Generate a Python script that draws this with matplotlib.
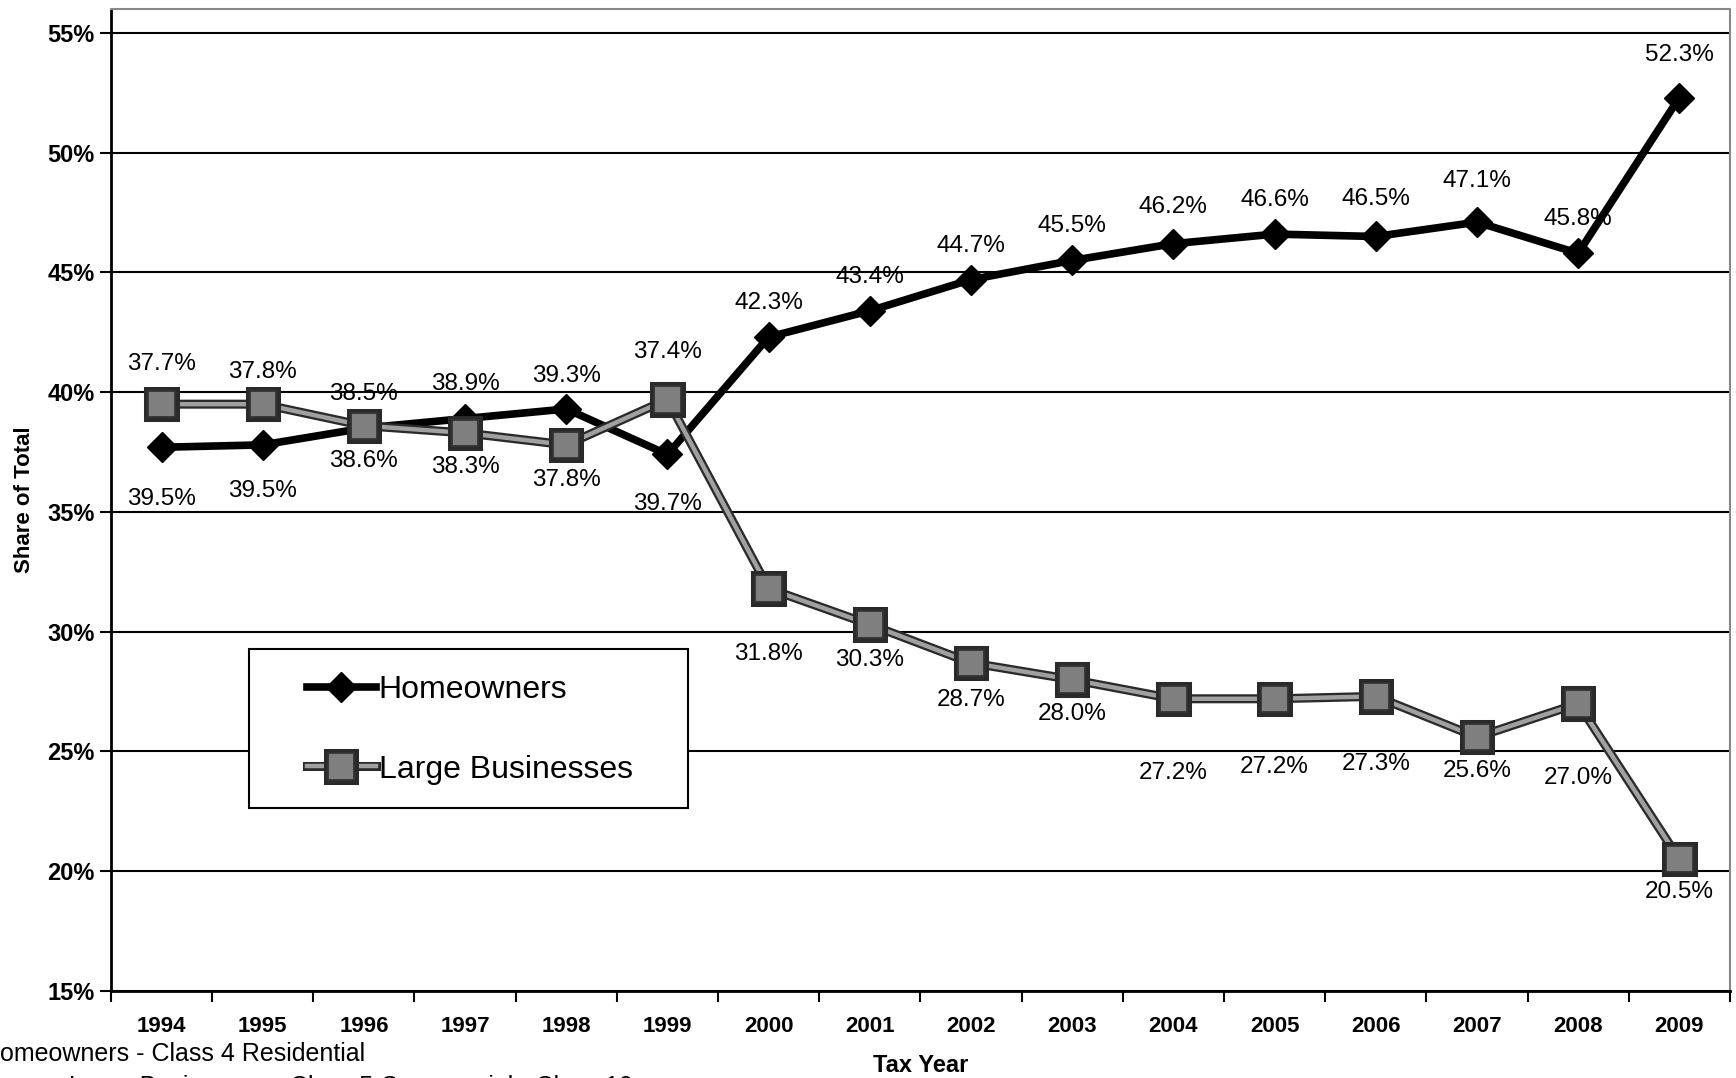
import matplotlib.pyplot as plt
import matplotlib.patheffects as pe
from matplotlib.patches import Rectangle

plt.rcParams['font.family'] = ['Liberation Sans', 'DejaVu Sans']

years = ['1994', '1995', '1996', '1997', '1998', '1999', '2000', '2001',
         '2002', '2003', '2004', '2005', '2006', '2007', '2008', '2009']
homeowners = [37.7, 37.8, 38.5, 38.9, 39.3, 37.4, 42.3, 43.4,
              44.7, 45.5, 46.2, 46.6, 46.5, 47.1, 45.8, 52.3]
large_biz = [39.5, 39.5, 38.6, 38.3, 37.8, 39.7, 31.8, 30.3,
             28.7, 28.0, 27.2, 27.2, 27.3, 25.6, 27.0, 20.5]
# labels as printed on the original (they were swapped in the source chart)
ho_labels = ['37.7%', '37.8%', '38.5%', '38.9%', '39.3%', '37.4%', '42.3%', '43.4%',
             '44.7%', '45.5%', '46.2%', '46.6%', '46.5%', '47.1%', '45.8%', '52.3%']
lb_labels = ['39.5%', '39.5%', '38.6%', '38.3%', '37.8%', '39.7%', '31.8%', '30.3%',
             '28.7%', '28.0%', '27.2%', '27.2%', '27.3%', '25.6%', '27.0%', '20.5%']
yticks = [15, 20, 25, 30, 35, 40, 45, 50, 55]

# label offsets in pixels (hand placed in the original)
ho_dy = [83, 73, 34, 35, 33, 102, 34, 34, 34, 34, 37, 34, 37, 41, 34, 43]
lb_dy = [95, 87, 35, 34, 35, 105, 65, 35, 37, 34, 74, 68, 68, 34, 74, 33]

fig = plt.figure(figsize=(17.36, 10.78), dpi=100)
ax = fig.add_axes([0.0639, 0.0807, 0.9326, 0.911])

x = list(range(len(years)))

for y in yticks:
    ax.axhline(y, color='black', lw=1.5, zorder=1)

ax.plot(x, homeowners, color='black', lw=5.5, marker='D', markersize=15,
        markerfacecolor='black', markeredgecolor='black', label='Homeowners',
        zorder=3)
lb_line, = ax.plot(x, large_biz, color='#a0a0a0', lw=3.2, marker='s', markersize=19,
                   markerfacecolor='#7f7f7f', markeredgecolor='#333333',
                   markeredgewidth=1.3, label='Large Businesses', zorder=4)
lb_line.set_path_effects([pe.Stroke(linewidth=6.5, foreground='#2a2a2a'), pe.Normal()])

for i in x:
    ax.annotate(ho_labels[i], (i, homeowners[i]), xytext=(0, ho_dy[i]),
                textcoords='offset pixels', ha='center', va='center',
                fontsize=17.5, zorder=5)
    ax.annotate(lb_labels[i], (i, large_biz[i]), xytext=(0, -lb_dy[i]),
                textcoords='offset pixels', ha='center', va='center',
                fontsize=17.5, zorder=5)

ax.set_xlim(-0.5, len(years) - 0.5)
ax.set_ylim(15, 56)

# ticks between categories, labels at centres
ax.set_xticks([i - 0.5 for i in range(len(years) + 1)])
ax.set_xticklabels([])
ax.set_xticks(x, minor=True)
ax.set_xticklabels(years, minor=True, fontsize=16, fontweight='bold')
ax.tick_params(axis='x', which='major', length=8, width=1.5, direction='out')
ax.tick_params(axis='x', which='minor', length=0, pad=18)

ax.set_yticks(yticks)
ax.set_yticklabels([f'{v}%' for v in yticks], fontsize=17, fontweight='bold')
ax.tick_params(axis='y', length=8, width=1.5, pad=3.8)

ax.set_ylabel('Share of Total', fontsize=16, fontweight='bold')
ax.yaxis.set_label_coords(-0.047, 0.5)
ax.set_xlabel('Tax Year', fontsize=17, fontweight='bold')
ax.xaxis.set_label_coords(0.5, -0.064)

ax.spines['left'].set_linewidth(2)
ax.spines['bottom'].set_linewidth(2)
for side in ['top', 'right']:
    ax.spines[side].set_color('#888888')
    ax.spines[side].set_linestyle((0, (1, 1)))
    ax.spines[side].set_linewidth(1.5)

# legend box
ax.add_patch(Rectangle((0.0852, 0.186), 0.2712, 0.162, transform=ax.transAxes,
                       facecolor='white', edgecolor='black', lw=1.5, zorder=6))
leg = ax.legend(loc='center left', bbox_to_anchor=(0.121, 0.266),
                fontsize=23, frameon=False, borderpad=0, labelspacing=1.55,
                handlelength=2.15, handletextpad=0.1, borderaxespad=0)
leg.set_zorder(7)
leg.legend_handles[1].set_path_effects([pe.Stroke(linewidth=6.5, foreground='#2a2a2a'),
                                        pe.Normal()])

fig.text(-0.0105, 0.0225, 'Homeowners - Class 4 Residential', fontsize=18,
         ha='left', va='center')
fig.text(0.04, -0.008, 'Large Businesses - Class 5 Commercial - Class 10', fontsize=18,
         ha='left', va='center')

fig.savefig('out.png', dpi=100)
